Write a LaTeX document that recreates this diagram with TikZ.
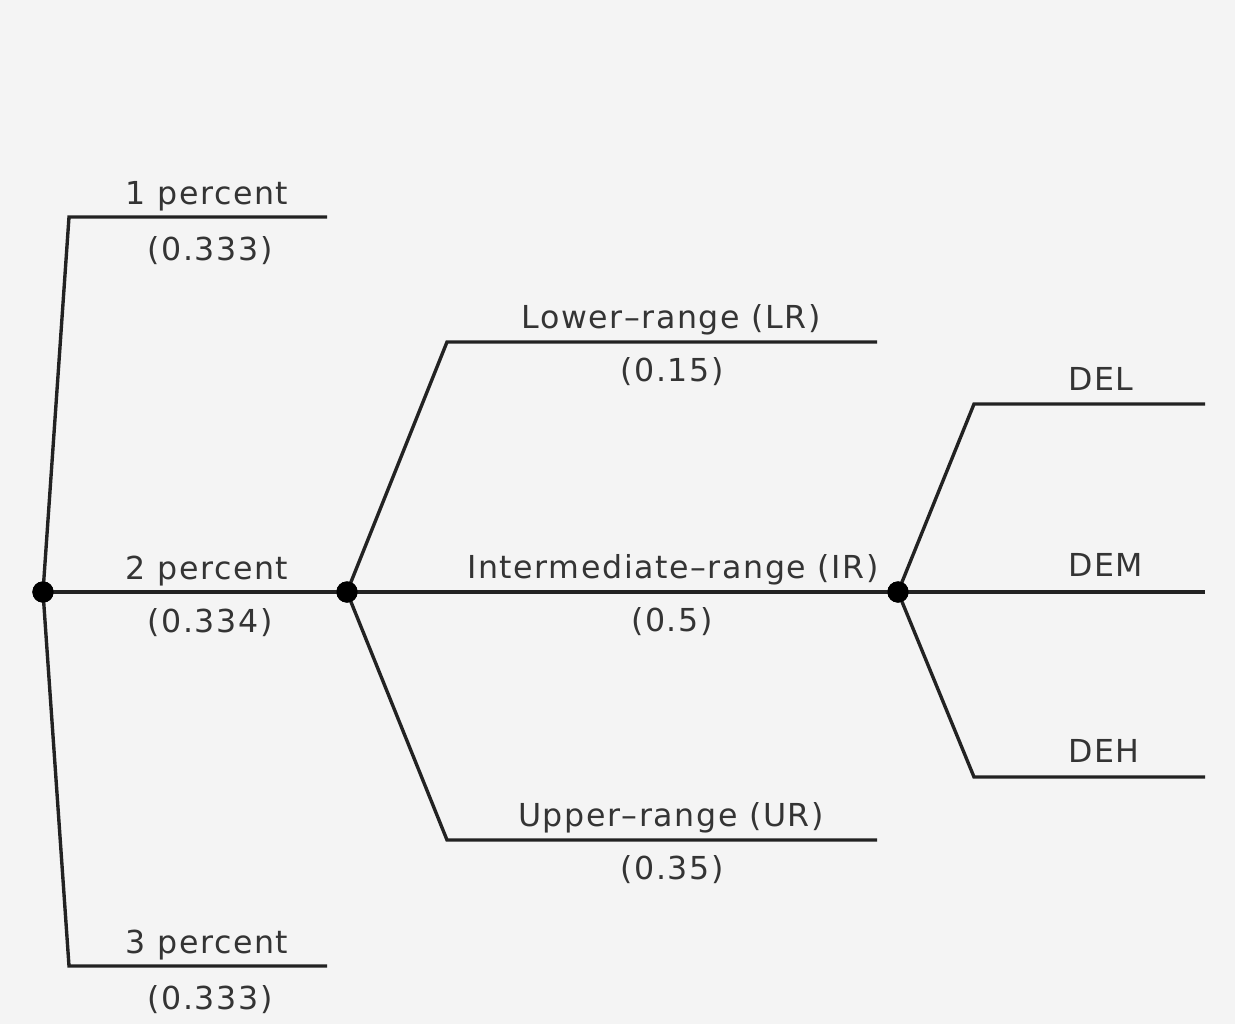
\documentclass[tikz,border=0pt]{standalone}
\usepackage{fontspec}
\setmainfont[LetterSpace=5]{DejaVu Sans}
\definecolor{bgc}{RGB}{244,244,244}
\definecolor{linec}{RGB}{34,34,34}
\definecolor{txtc}{RGB}{52,52,52}
\begin{document}
\begin{tikzpicture}[x=0.025cm,y=-0.025cm,
  branch/.style={draw=linec,line width=2.4pt,line join=miter},
  chance/.style={circle,fill=black,inner sep=0pt,minimum size=0.53cm},
  lbl/.style={anchor=base,text=txtc,inner sep=0pt,font=\fontsize{22.5}{27}\selectfont},
  lblw/.style={lbl,anchor=base west}]
\fill[bgc] (0,0) rectangle (1235,1024);
\useasboundingbox (0,0) rectangle (1235,1024);
% coordinates
\coordinate (c1) at (69,217);  \coordinate (e1) at (327,217);
\coordinate (c3) at (69,966);  \coordinate (e3) at (327,966);
\coordinate (lrc) at (447,342); \coordinate (lre) at (877,342);
\coordinate (urc) at (447,840); \coordinate (ure) at (877,840);
\coordinate (delc) at (974,404); \coordinate (dele) at (1205,404);
\coordinate (deme) at (1205,592);
\coordinate (dehc) at (974,777); \coordinate (dehe) at (1205,777);
% dots
\node[chance] (root) at (43,592) {};
\node[chance] (rate) at (347,592) {};
\node[chance] (range) at (898,592) {};
% branches
\draw[branch] (root.center) -- (c1) -- (e1);
\draw[branch] (root.center) -- (rate.center);
\draw[branch] (root.center) -- (c3) -- (e3);
\draw[branch] (rate.center) -- (lrc) -- (lre);
\draw[branch] (rate.center) -- (range.center);
\draw[branch] (rate.center) -- (urc) -- (ure);
\draw[branch] (range.center) -- (delc) -- (dele);
\draw[branch] (range.center) -- (deme);
\draw[branch] (range.center) -- (dehc) -- (dehe);
\node[chance] at (root) {};
\node[chance] at (rate) {};
\node[chance] at (range) {};
% labels
\node[lbl] (p1) at (207,205) {1 percent};
\node[lbl] (p1v) at (210,261) {(0.333)};
\node[lbl] (p2) at (207,579) {2 percent};
\node[lbl] (p2v) at (210,632) {(0.334)};
\node[lbl] (p3) at (207,953) {3 percent};
\node[lbl] (p3v) at (210,1009) {(0.333)};
\node[lbl] (lr) at (671,328) {Lower–range (LR)};
\node[lbl] (lrv) at (672,381) {(0.15)};
\node[lbl] (ir) at (673,578) {Intermediate–range (IR)};
\node[lbl] (irv) at (672,631) {(0.5)};
\node[lbl] (ur) at (671,826) {Upper–range (UR)};
\node[lbl] (urv) at (672,879) {(0.35)};
\node[lblw] (del) at (1068,390) {DEL};
\node[lblw] (dem) at (1068,576) {DEM};
\node[lblw] (deh) at (1068,762) {DEH};
\end{tikzpicture}
\end{document}
